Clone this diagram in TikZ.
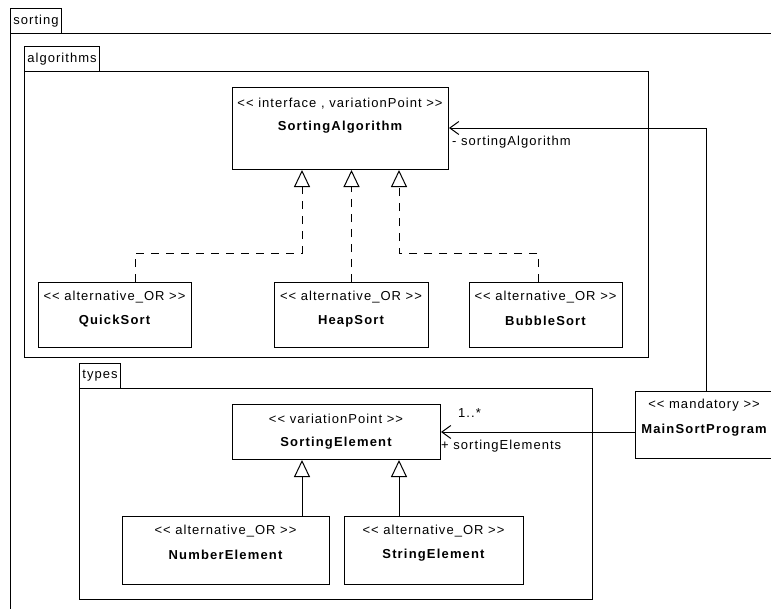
\documentclass[tikz,border=0pt]{standalone}
\usepackage{fontspec}
\newfontfamily\txtfont{Liberation Sans}[LetterSpace=8]
\newfontfamily\namefont{Liberation Sans}[LetterSpace=9]
\usetikzlibrary{arrows.meta}
\tikzset{
  frame/.style={draw=black, line width=1pt, rectangle, inner sep=0pt, anchor=north west},
  tab/.style={frame, font=\txtfont\fontsize{13}{15}\selectfont},
  cls/.style={frame},
  stt/.style={inner sep=0pt, font=\txtfont\fontsize{13}{15}\selectfont},
  nmt/.style={inner sep=0pt, font=\namefont\bfseries\fontsize{13}{15}\selectfont},
  lbl/.style={inner sep=0pt, anchor=west, font=\txtfont\fontsize{13}{15}\selectfont},
  realize/.style={draw=black, line width=1pt, dash pattern=on 8pt off 7pt, -{Triangle[open, length=17pt, width=16pt]}},
  gen/.style={draw=black, line width=1pt, -{Triangle[open, length=17pt, width=16pt]}},
  assoc/.style={draw=black, line width=1pt, -{Straight Barb[length=9pt, width=13pt]}}
}
\begin{document}
\begin{tikzpicture}[x=1pt, y=-1pt]
\useasboundingbox (0,0) rectangle (771,608);
\clip (0,0) rectangle (771,608);
\fill[white] (0,0) rectangle (771,608);

% packages
\node[frame, minimum width=800, minimum height=620] (sortingbody) at (10,33) {};
\node[tab, minimum width=51, minimum height=25] (sortingtab) at (10,8) {sorting};
\node[frame, minimum width=624, minimum height=286] (algbody) at (24,71) {};
\node[tab, minimum width=75, minimum height=25] (algtab) at (24,46) {algorithms};
\node[frame, minimum width=513, minimum height=211] (typesbody) at (79,388) {};
\node[tab, minimum width=41, minimum height=25] (typestab) at (79,363) {types};

% classes
\node[cls, minimum width=216, minimum height=82] (sa) at (232,87) {};
\node[stt] (sast) at (340,104) {<< interface , variationPoint >>};
\node[nmt] (sanm) at (340,127) {SortingAlgorithm};

\node[cls, minimum width=153, minimum height=65] (qs) at (38,282) {};
\node[stt] (qsst) at (114.5,297) {<< alternative\_OR >>};
\node[nmt] (qsnm) at (114.5,321) {QuickSort};

\node[cls, minimum width=154, minimum height=65] (hs) at (274,282) {};
\node[stt] (hsst) at (351,297) {<< alternative\_OR >>};
\node[nmt] (hsnm) at (351,321) {HeapSort};

\node[cls, minimum width=153, minimum height=65] (bs) at (469,282) {};
\node[stt] (bsst) at (545.5,297) {<< alternative\_OR >>};
\node[nmt] (bsnm) at (545.5,321) {BubbleSort};

\node[cls, minimum width=208, minimum height=55] (se) at (232,404) {};
\node[stt] (sest) at (336,419) {<< variationPoint >>};
\node[nmt] (senm) at (336,443) {SortingElement};

\node[cls, minimum width=207, minimum height=68] (ne) at (122,516) {};
\node[stt] (nest) at (225.5,531) {<< alternative\_OR >>};
\node[nmt] (nenm) at (225.5,555) {NumberElement};

\node[cls, minimum width=179, minimum height=68] (st) at (344,516) {};
\node[stt] (stst) at (433.5,531) {<< alternative\_OR >>};
\node[nmt] (stnm) at (433.5,555) {StringElement};

\node[cls, minimum width=139, minimum height=67] (msp) at (635,391) {};
\node[stt] (mspst) at (704,405) {<< mandatory >>};
\node[nmt] (mspnm) at (704,430) {MainSortProgram};

% bend coordinates
\coordinate (b1) at (135,253);
\coordinate (b2) at (302,253);
\coordinate (b3) at (538,253);
\coordinate (b4) at (399,253);
\coordinate (c1) at (706,128);
\coordinate (g1) at (302,500);
\coordinate (g2) at (399,500);

% realizations
\draw[realize] (qs.north -| b1) -- (b1) -- (b2) -- (sa.south -| b2);
\draw[realize] (hs.north) -- (sa.south -| hs.north);
\draw[realize] (bs.north -| b3) -- (b3) -- (b4) -- (sa.south -| b4);

% generalizations
\draw[gen] (ne.north -| g1) -- (se.south -| g1);
\draw[gen] (st.north -| g2) -- (se.south -| g2);

% associations
\draw[assoc] (msp.north -| c1) -- (c1) -- (sa.east |- c1);
\draw[assoc] (msp.west |- se.east) -- (se.east);

% association labels
\node[lbl] (lblsa) at (452,142) {- sortingAlgorithm};
\node[lbl] (lblmult) at (458,413) {1..*};
\node[lbl] (lblse) at (441,446) {+ sortingElements};
\end{tikzpicture}
\end{document}
